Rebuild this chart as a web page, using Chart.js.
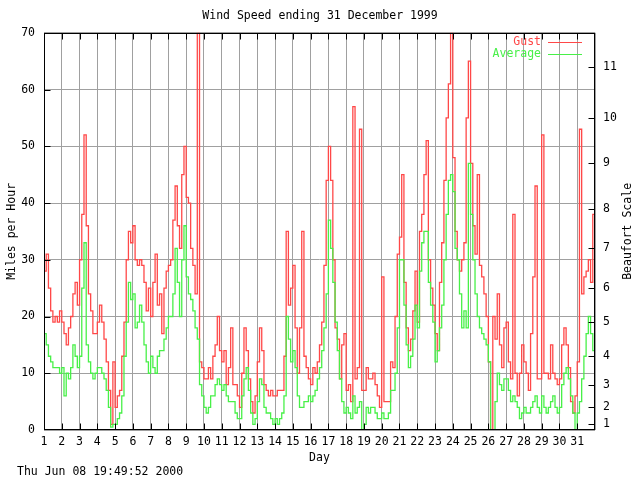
<!DOCTYPE html>
<html>
<head>
<meta charset="utf-8">
<title>Wind Speed ending 31 December 1999</title>
<script src="https://cdn.jsdelivr.net/npm/chart.js@4.4.0/dist/chart.umd.min.js"></script>
<style>
  html, body { margin: 0; padding: 0; background: #fff; }
  #wrap { width: 640px; height: 480px; }
</style>
</head>
<body>
<div id="wrap"><canvas id="wind"></canvas></div>
<script>
// readings every 3 hours, 1 Dec 00:00 .. 1 Jan 00:00
var samplesPerDay = 8;

var gust = [
  28, 31, 25, 21, 19, 20, 19, 21,   // 1
  19, 17, 15, 18, 20, 24, 26, 22,   // 2
  30, 38, 52, 36, 24, 21, 17, 17,   // 3
  19, 22, 19, 16, 12, 7, 1, 12,     // 4
  4, 6, 7, 13, 19, 30, 35, 33,      // 5
  36, 30, 29, 30, 29, 26, 21, 25,   // 6
  20, 26, 31, 22, 24, 17, 25, 28,   // 7
  29, 30, 37, 43, 36, 32, 45, 50,   // 8
  41, 40, 32, 29, 24, 70, 12, 11,   // 9
  9, 9, 11, 9, 13, 15, 20, 14,      // 10
  12, 14, 8, 11, 18, 8, 8, 6,       // 11
  4, 10, 18, 14, 9, 5, 3, 6,        // 12
  12, 18, 14, 8, 7, 6, 7, 6,        // 13
  6, 7, 7, 7, 13, 35, 22, 25,       // 14
  29, 18, 10, 18, 35, 13, 11, 9,    // 15
  8, 11, 10, 12, 15, 19, 29, 44,    // 16
  50, 44, 30, 18, 16, 9, 15, 17,    // 17
  7, 8, 5, 57, 9, 11, 53, 7,        // 18
  7, 11, 9, 9, 10, 8, 6, 4,         // 19
  27, 5, 5, 5, 12, 11, 20, 31,      // 20
  34, 45, 26, 18, 14, 16, 21, 28,   // 21
  19, 35, 38, 45, 51, 30, 25, 22,   // 22
  17, 14, 26, 33, 44, 55, 61, 70,   // 23
  48, 35, 30, 28, 30, 33, 55, 65,   // 24
  47, 36, 31, 45, 29, 27, 24, 20,   // 25
  12, 0, 20, 16, 24, 15, 11, 18,    // 26
  19, 12, 9, 38, 10, 6, 10, 15,     // 27
  12, 10, 7, 17, 27, 43, 9, 9,      // 28
  52, 10, 10, 9, 15, 10, 9, 8,      // 29
  9, 15, 18, 15, 11, 5, 3, 6,       // 30
  12, 53, 24, 27, 28, 30, 26, 38,   // 31
  16
];

var average = [
  17, 15, 13, 12, 11, 11, 11, 10,   // 1
  11, 6, 10, 9, 11, 15, 13, 11,     // 2
  13, 25, 33, 15, 12, 10, 9, 10,    // 3
  11, 11, 10, 9, 7, 4, 0.5, 1,      // 4
  1, 2, 3, 6, 13, 19, 26, 23,       // 5
  24, 18, 19, 22, 19, 15, 12, 10,   // 6
  13, 11, 10, 13, 14, 14, 16, 18,   // 7
  20, 20, 24, 32, 26, 20, 30, 36,   // 8
  27, 24, 23, 21, 18, 16, 8, 6,     // 9
  4, 3, 4, 6, 6, 8, 9, 8,           // 10
  7, 8, 6, 5, 5, 5, 3, 2,           // 11
  2, 6, 9, 11, 7, 3, 1, 2,          // 12
  5, 9, 8, 4, 3, 3, 2, 1,           // 13
  2, 1, 2, 3, 6, 20, 16, 12,        // 14
  14, 11, 6, 4, 4, 5, 5, 6,         // 15
  5, 6, 7, 9, 11, 14, 18, 24,       // 16
  37, 32, 26, 19, 14, 9, 5, 3,      // 17
  4, 3, 2, 6, 3, 4, 5, 0,           // 18
  1, 4, 3, 4, 4, 3, 2, 2,           // 19
  3, 2, 2, 3, 7, 7, 10, 18,         // 20
  30, 30, 22, 15, 11, 13, 16, 22,   // 21
  18, 28, 33, 35, 35, 26, 22, 19,   // 22
  12, 14, 18, 22, 30, 38, 44, 45,   // 23
  42, 32, 30, 24, 18, 21, 18, 47,   // 24
  38, 30, 24, 20, 18, 17, 16, 15,   // 25
  12, 0, 0, 5, 10, 8, 7, 9,         // 26
  9, 7, 5, 6, 5, 4, 2, 3,           // 27
  4, 3, 3, 4, 5, 6, 4, 3,           // 28
  6, 4, 3, 4, 5, 6, 4, 3,           // 29
  4, 8, 10, 11, 9, 6, 3, 0,         // 30
  3, 5, 9, 13, 17, 20, 17, 14,      // 31
  7
];

// Beaufort force boundaries in mph (right axis)
var beaufortMph = [1, 4, 8, 13, 19, 25, 32, 39, 47, 55, 64];
var beaufortForce = ["1", "2", "3", "4", "5", "6", "7", "8", "9", "10", "11"];

var mono = "'DejaVu Sans Mono', monospace";
var redLine = '#ff4848';
var greenLine = '#48f048';
var gridGrey = '#a0a0a0';

function toPoints(arr) {
    return arr.map(function (v, i) {
        return { x: 1 + i / samplesPerDay, y: v };
    });
}

// border, inward tick marks, legend and the extra texts gnuplot draws
var gnuplotBits = {
    id: 'gnuplotBits',
    afterDatasetsDraw: function (chart) {
        var c = chart.ctx;
        var a = chart.chartArea;
        var sx = chart.scales.x, sy = chart.scales.y, sb = chart.scales.beaufort;
        var L = Math.round(a.left) + 0.5, R = Math.round(a.right) - 0.5;
        var T = Math.round(a.top) + 0.5, B = Math.round(a.bottom) - 0.5;
        c.save();
        c.strokeStyle = '#000';
        c.lineWidth = 1;
        c.beginPath();
        for (var d = 2; d <= 31; d++) {
            var px = Math.round(sx.getPixelForValue(d)) + 0.5;
            c.moveTo(px, B); c.lineTo(px, B - 6);
            c.moveTo(px, T); c.lineTo(px, T + 6);
        }
        for (var m = 10; m <= 60; m += 10) {
            var py = Math.round(sy.getPixelForValue(m)) + 0.5;
            c.moveTo(L, py); c.lineTo(L + 6, py);
        }
        beaufortMph.forEach(function (v) {
            var py = Math.round(sb.getPixelForValue(v)) + 0.5;
            c.moveTo(R, py); c.lineTo(R - 6, py);
        });
        c.stroke();
        c.strokeRect(L, T, R - L, B - T);

        c.font = '11.5px ' + mono;
        c.textBaseline = 'middle';
        // legend
        c.textAlign = 'right';
        c.fillStyle = redLine;
        c.fillText('Gust', 541, 42);
        c.fillStyle = greenLine;
        c.fillText('Average', 541, 54);
        c.beginPath();
        c.strokeStyle = redLine;
        c.moveTo(548, 42.5); c.lineTo(582, 42.5);
        c.stroke();
        c.beginPath();
        c.strokeStyle = greenLine;
        c.moveTo(548, 54.5); c.lineTo(582, 54.5);
        c.stroke();

        // footer time stamp
        c.fillStyle = '#000';
        c.textAlign = 'left';
        c.fillText('Thu Jun 08 19:49:52 2000', 17, 472.5);

        // right axis title, bottom to top like the left one
        c.translate(628, (a.top + a.bottom) / 2);
        c.rotate(-Math.PI / 2);
        c.textAlign = 'center';
        c.fillText('Beaufort Scale', 0, 0);
        c.restore();
    }
};

Chart.defaults.font.family = mono;
Chart.defaults.font.size = 11.5;
Chart.defaults.color = '#000';

var windChart = new Chart(document.getElementById('wind'), {
    type: 'line',
    data: {
        datasets: [{
            label: 'Gust',
            data: toPoints(gust),
            borderColor: redLine,
            borderWidth: 1.3,
            pointRadius: 0,
            stepped: true,
            order: 1
        },
        {
            label: 'Average',
            data: toPoints(average),
            borderColor: greenLine,
            borderWidth: 1.3,
            pointRadius: 0,
            stepped: true,
            order: 0
        }]
    },
    options: {
        responsive: true,
        maintainAspectRatio: false,
        animation: false,
        events: [],
        plugins: {
            legend: { display: false },
            tooltip: { enabled: false },
            title: {
                display: true,
                text: 'Wind Speed ending 31 December 1999',
                font: { size: 11.5, weight: 'normal' },
                color: '#000',
                padding: { top: 9, bottom: 10 }
            }
        },
        scales: {
            x: {
                type: 'linear',
                position: 'bottom',
                min: 1,
                max: 32,
                afterFit: function (s) { s.height = 50; },
                ticks: {
                    stepSize: 1,
                    autoSkip: false,
                    maxRotation: 0,
                    padding: 5,
                    callback: function (v) { return v <= 31 ? v : ''; }
                },
                grid: { color: gridGrey, drawTicks: false },
                border: { display: false },
                title: { display: true, text: 'Day', padding: { top: 0, bottom: 15 } }
            },
            y: {
                position: 'left',
                min: 0,
                max: 70,
                afterFit: function (s) { s.width = 44; },
                ticks: { stepSize: 10, padding: 9 },
                grid: { color: gridGrey, drawTicks: false },
                border: { display: false },
                title: { display: true, text: 'Miles per Hour', padding: { top: 5, bottom: 0 } }
            },
            beaufort: {
                position: 'right',
                min: 0,
                max: 70,
                afterFit: function (s) { s.width = 45; },
                afterBuildTicks: function (s) {
                    s.ticks = beaufortMph.map(function (v) { return { value: v }; });
                },
                ticks: {
                    padding: 8,
                    autoSkip: false,
                    callback: function (v) {
                        var i = beaufortMph.indexOf(v);
                        return i >= 0 ? beaufortForce[i] : '';
                    }
                },
                grid: { display: false, drawTicks: false },
                border: { display: false }
            }
        }
    },
    plugins: [gnuplotBits]
});
</script>
</body>
</html>
